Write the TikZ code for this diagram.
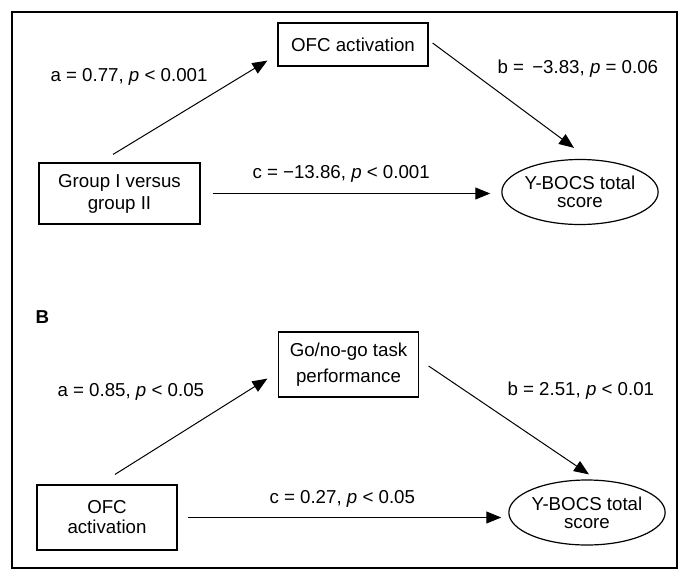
\documentclass[tikz,border=0pt]{standalone}
\usepackage{fontspec}
\setmainfont{Liberation Sans}
\usetikzlibrary{arrows.meta,shapes.geometric}
\tikzset{every path/.style={black, line width=1pt},
  >={Triangle[length=15pt,width=12pt]},
  every node/.style={font=\fontsize{18.7}{22}\selectfont, inner sep=0pt},
  box/.style={draw, line width=1.2pt, align=center},
  oval/.style={draw, ellipse, line width=1.2pt, align=center,
    font=\fontsize{18.7}{17.7}\selectfont, minimum height=65pt}}

\begin{document}
\begin{tikzpicture}[x=1pt,y=-1pt]
  \useasboundingbox (0,0) rectangle (690,581);
  \draw[line width=1.5pt] (12,12) rectangle (677,568);
  \begin{scope}
   \node[box, minimum width=150pt, minimum height=43pt] (ofcA) at (353,44.5) {OFC activation};
   \node[box, minimum width=161pt, minimum height=61pt] (grp) at (119.5,193.5) {Group I versus\\group II};
   \node[oval, minimum width=138pt] (ybA) at (580,192) {Y-BOCS total\\score};
   \draw[->] ([xshift=-6.5pt,yshift=8pt]grp.north) -- ([xshift=-10pt,yshift=6pt]ofcA.south west);
   \draw[->] ([xshift=4pt,yshift=1.5pt]ofcA.east) -- ([xshift=-6pt,yshift=11pt]ybA.north);
   \draw[->] ([xshift=12pt]grp.east) -- ([xshift=-11pt]grp.east -| ybA.west);
   \node[anchor=base west] (aA) at (50,81.5) {a = 0.77, \textit{p} < 0.001};
   \node[anchor=base west] (bA) at (497,73) {b = \,−3.83, \textit{p} = 0.06};
   \node[anchor=base west] (cA) at (252,178) {c = −13.86, \textit{p} < 0.001};
  \end{scope}
  \begin{scope}
   \node[anchor=base west, font=\fontsize{18.7}{22}\bfseries] (lblB) at (35,323.5) {B};
   \node[box, minimum width=140pt, minimum height=65pt] (goB) at (348.5,364.5) {Go/no-go task\\[4pt]performance};
   \node[box, minimum width=140pt, minimum height=65pt] (ofcB) at (107,517.5) {OFC\\[-2pt]activation};
   \node[oval, minimum width=140pt] (ybB) at (587,512.5) {Y-BOCS total\\score};
   \draw[->] ([xshift=8pt,yshift=10pt]ofcB.north) -- ([xshift=-10.5pt,yshift=19pt]goB.south west);
   \draw[->] ([xshift=9.5pt,yshift=-1.5pt]goB.east) -- ([xshift=2pt,yshift=5pt]ybB.north);
   \draw[->] ([xshift=10pt]ofcB.east) -- ([xshift=-7pt]ofcB.east -| ybB.west);
   \node[anchor=base west] (aB) at (57,396) {a = 0.85, \textit{p} < 0.05};
   \node[anchor=base west] (bB) at (507,395) {b = 2.51, \textit{p} < 0.01};
   \node[anchor=base west] (cB) at (269,503) {c = 0.27, \textit{p} < 0.05};
  \end{scope}
\end{tikzpicture}
\end{document}
